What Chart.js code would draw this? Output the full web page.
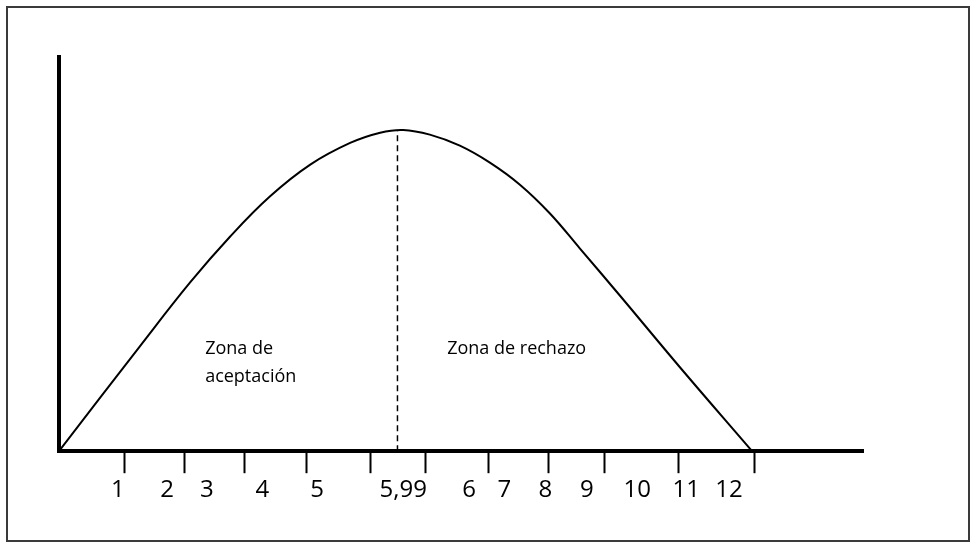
<!DOCTYPE html>
<html>
<head>
<meta charset="utf-8">
<script src="https://cdn.jsdelivr.net/npm/chart.js@4/dist/chart.umd.min.js"></script>
<style>
  body { margin: 0; background: #fff; }
  #wrap { position: relative; width: 975px; height: 548px; }
  #frame { position: absolute; left: 6px; top: 6px; width: 960px; height: 532px; border: 2px solid #3a3a3a; }
  canvas { position: absolute; left: 0; top: 0; }
</style>
</head>
<body>
<div id="wrap">
  <div id="frame"></div>
  <canvas id="canvas" width="975" height="548"></canvas>
</div>
<script>
// curve (x in axis units, y in arbitrary height units)
const curveX = [0, 1.40, 2.27, 2.96, 3.65, 4.35, 5.04, 5.56, 5.96, 6.42, 6.94, 7.46, 7.98, 8.50, 9.02, 9.71, 10.75, 12.0];
const curveY = [0, 2.66, 4.28, 5.44, 6.46, 7.27, 7.82, 8.08, 8.15, 8.03, 7.75, 7.32, 6.76, 6.03, 5.14, 3.95, 2.13, 0];

// dashed critical line
const criticalX = 5.86;
const criticalTop = 8.13;

// tick marks on the axis and the labels below (they do not line up in the original)
const tickPositions = [1.13, 2.18, 3.22, 4.28, 5.39, 6.34, 7.43, 8.48, 9.45, 10.72, 12.05];
const labelPositions = [1.02, 1.87, 2.56, 3.52, 4.47, 5.96, 7.10, 7.71, 8.42, 9.14, 10.01, 10.86, 11.60];
const labelTexts = ["1", "2", "3", "4", "5", "5,99", "6", "7", "8", "9", "10", "11", "12"];

// zone captions: [text, x, y]
const zoneNotes = [
	["Zona de", 2.53, 2.46],
	["aceptación", 2.53, 1.75],
	["Zona de rechazo", 6.72, 2.46],
];

const zoneLabels = {
	id: "zoneLabels",
	afterDatasetsDraw(chart) {
		const ctx = chart.ctx;
		const xs = chart.scales.x;
		const ys = chart.scales.y;
		ctx.save();
		ctx.font = "18px 'Open Sans'";
		ctx.fillStyle = "#000";
		ctx.textAlign = "left";
		ctx.textBaseline = "alphabetic";
		zoneNotes.forEach(([text, x, y]) => {
			ctx.fillText(text, xs.getPixelForValue(x), ys.getPixelForValue(y));
		});
		ctx.restore();
	},
};

const context = document.getElementById("canvas").getContext("2d");

new Chart(context, {
	type: "scatter",
	data: {
		datasets: [
			{
				data: curveX.map((x, i) => ({ x: x, y: curveY[i] })),
				showLine: true,
				borderColor: "#000",
				borderWidth: 2,
				pointRadius: 0,
				tension: 0.4,
			},
			{
				data: [
					{ x: criticalX, y: 0 },
					{ x: criticalX, y: criticalTop },
				],
				showLine: true,
				borderColor: "#000",
				borderWidth: 1.5,
				borderDash: [6, 4],
				pointRadius: 0,
			},
		],
	},
	options: {
		responsive: false,
		animation: false,
		layout: { padding: { left: 59, top: 57, right: 112, bottom: 40 } },
		plugins: { legend: { display: false }, tooltip: { enabled: false } },
		scales: {
			x: {
				type: "linear",
				position: "bottom",
				min: 0,
				max: 13.92,
				afterBuildTicks: (axis) => {
					axis.ticks = tickPositions.map((v) => ({ value: v }));
				},
				grid: {
					drawOnChartArea: false,
					drawTicks: true,
					tickLength: 22,
					tickColor: "#000",
					tickWidth: 2,
				},
				border: { display: true, color: "#000", width: 4 },
				ticks: { display: false },
			},
			xl: {
				type: "linear",
				position: "bottom",
				min: 0,
				max: 13.92,
				afterBuildTicks: (axis) => {
					axis.ticks = labelPositions.map((v) => ({ value: v }));
				},
				grid: { display: false, drawTicks: false },
				border: { display: false },
				ticks: {
					autoSkip: false,
					maxRotation: 0,
					padding: 3,
					color: "#000",
					font: { family: "'Open Sans'", size: 24 },
					callback: (value, index) => labelTexts[index],
				},
			},
			y: {
				type: "linear",
				min: 0,
				max: 10,
				grid: { display: false, drawTicks: false },
				border: { display: true, color: "#000", width: 4 },
				ticks: { display: false },
			},
		},
	},
	plugins: [zoneLabels],
});
</script>
</body>
</html>
